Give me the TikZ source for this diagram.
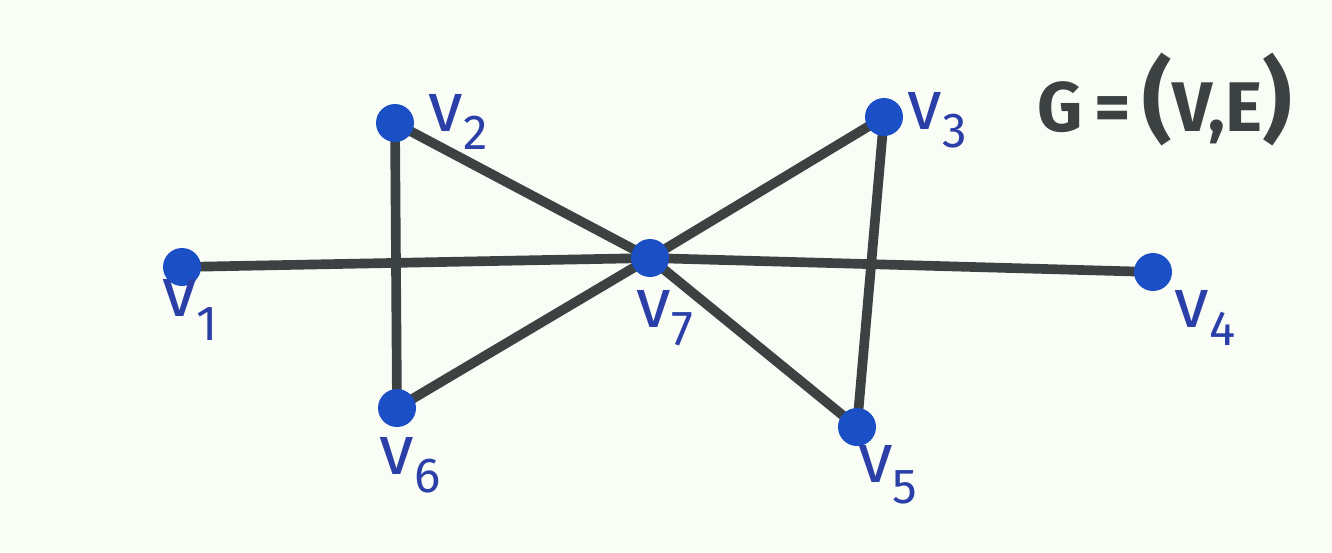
\documentclass[tikz,border=0pt]{standalone}
\usepackage{fontspec}
\setsansfont{Fira Sans}
\definecolor{bg}{HTML}{FAFCF6}
\definecolor{edgec}{HTML}{3C4142}
\definecolor{vblue}{HTML}{1B4FC6}
\definecolor{lblue}{HTML}{2B3FA8}
\begin{document}
\begin{tikzpicture}[x=0.02cm,y=-0.02cm,
  vert/.style={circle,fill=vblue,inner sep=0pt,minimum size=0.76cm},
  edge/.style={draw=edgec,line width=5.5pt,line cap=round},
  lab/.style={text=lblue,font=\sffamily\fontsize{40}{40}\selectfont,inner sep=0pt}]
\fill[bg] (0,0) rectangle (1332,552);
\useasboundingbox (0,0) rectangle (1332,552);
\coordinate (p1) at (182,267);
\coordinate (p2) at (395,123);
\coordinate (p3) at (884,117);
\coordinate (p4) at (1153,272);
\coordinate (p5) at (857,427);
\coordinate (p6) at (397,408);
\coordinate (p7) at (650,258);
\draw[edge] (p1) -- (p7);
\draw[edge] (p7) -- (p4);
\draw[edge] (p2) -- (p7);
\draw[edge] (p2) -- (p6);
\draw[edge] (p6) -- (p7);
\draw[edge] (p3) -- (p7);
\draw[edge] (p3) -- (p5);
\draw[edge] (p5) -- (p7);
\foreach \i in {1,...,7} \node[vert] (n\i) at (p\i) {};
\node[lab] (l1) at (190,310) {v\raisebox{-0.35em}{\fontsize{28}{28}\selectfont 1}};
\node[lab] (l2) at (458,122) {v\raisebox{-0.25em}{\fontsize{28}{28}\selectfont 2}};
\node[lab] (l3) at (937,120) {v\raisebox{-0.25em}{\fontsize{28}{28}\selectfont 3}};
\node[lab] (l4) at (1205,318) {v\raisebox{-0.25em}{\fontsize{28}{28}\selectfont 4}};
\node[lab] (l5) at (888,475) {v\raisebox{-0.3em}{\fontsize{28}{28}\selectfont 5}};
\node[lab] (l6) at (410,465) {v\raisebox{-0.25em}{\fontsize{28}{28}\selectfont 6}};
\node[lab] (l7) at (665,318) {v\raisebox{-0.25em}{\fontsize{28}{28}\selectfont 7}};
\node[text=edgec,font=\sffamily\bfseries\fontsize{40}{40}\selectfont,inner sep=0pt] (g) at (1165,100) {G\,=\,{\fontsize{52}{52}\selectfont(}V,E{\fontsize{52}{52}\selectfont)}};
\end{tikzpicture}
\end{document}
